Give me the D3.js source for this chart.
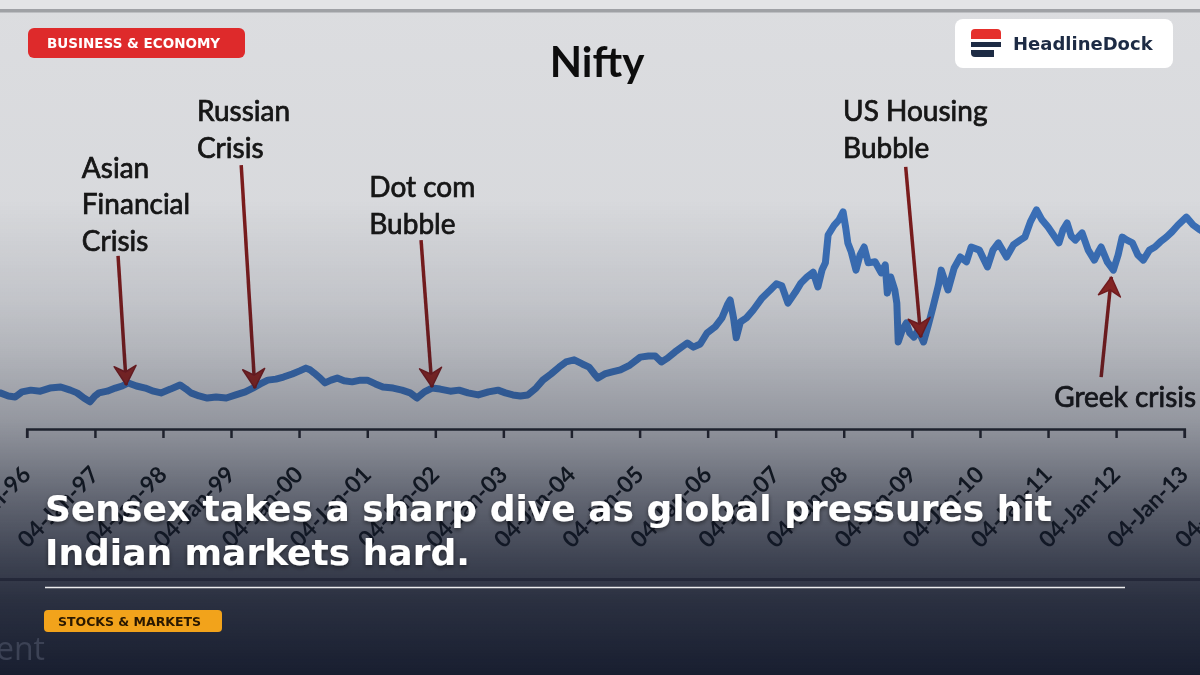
<!DOCTYPE html>
<html>
<head>
<meta charset="utf-8">
<script src="https://cdn.jsdelivr.net/npm/d3@7"></script>
<style>
  html, body { margin: 0; padding: 0; background: #141a2c; }
  svg { display: block; }
</style>
</head>
<body>
<svg id="chart" width="1200" height="675"></svg>
<script>
'use strict';

// Nifty closing level, decimal years
const years = [
  1995.46, 1995.61, 1995.73, 1995.83, 1995.93, 1996.06, 1996.20, 1996.34, 1996.50, 1996.64,
  1996.74, 1996.84, 1996.93, 1997.00, 1997.06, 1997.18, 1997.30, 1997.40, 1997.49, 1997.61,
  1997.74, 1997.86, 1997.97, 1998.11, 1998.25, 1998.34, 1998.41, 1998.53, 1998.65, 1998.78,
  1998.93, 1999.07, 1999.21, 1999.32, 1999.43, 1999.54, 1999.66, 1999.77, 1999.90, 2000.01,
  2000.10, 2000.16, 2000.22, 2000.31, 2000.38, 2000.47, 2000.56, 2000.66, 2000.78, 2000.90,
  2001.00, 2001.12, 2001.23, 2001.38, 2001.51, 2001.63, 2001.73, 2001.84, 2001.95, 2002.07,
  2002.22, 2002.35, 2002.48, 2002.63, 2002.78, 2002.92, 2003.03, 2003.14, 2003.25, 2003.36,
  2003.48, 2003.58, 2003.70, 2003.82, 2003.92, 2004.04, 2004.16, 2004.26, 2004.35, 2004.39,
  2004.49, 2004.60, 2004.72, 2004.86, 2005.01, 2005.13, 2005.23, 2005.32, 2005.41, 2005.52,
  2005.70, 2005.79, 2005.89, 2005.99, 2006.11, 2006.21, 2006.29, 2006.33, 2006.38, 2006.42,
  2006.48, 2006.57, 2006.67, 2006.80, 2006.92, 2007.01, 2007.09, 2007.18, 2007.29, 2007.37,
  2007.46, 2007.55, 2007.62, 2007.68, 2007.73, 2007.77, 2007.86, 2007.93, 2007.99, 2008.03,
  2008.06, 2008.11, 2008.18, 2008.24, 2008.30, 2008.36, 2008.46, 2008.55, 2008.61, 2008.64,
  2008.69, 2008.75, 2008.78, 2008.80, 2008.86, 2008.92, 2008.97, 2009.03, 2009.09, 2009.17,
  2009.24, 2009.31, 2009.39, 2009.43, 2009.53, 2009.62, 2009.71, 2009.80, 2009.87, 2009.99,
  2010.11, 2010.19, 2010.27, 2010.39, 2010.49, 2010.59, 2010.66, 2010.74, 2010.83, 2010.91,
  2011.00, 2011.09, 2011.16, 2011.22, 2011.28, 2011.34, 2011.40, 2011.50, 2011.59, 2011.68,
  2011.74, 2011.78, 2011.87, 2011.96, 2012.03, 2012.09, 2012.16, 2012.24, 2012.32, 2012.40,
  2012.49, 2012.57, 2012.65, 2012.74, 2012.82, 2012.91, 2013.03, 2013.13, 2013.23, 2013.35
];

const nifty = [
  1100, 1050, 960, 930, 1080, 1130, 1100, 1190, 1220, 1130,
  1050, 900, 790, 960, 1050, 1100, 1190, 1250, 1340, 1250,
  1190, 1100, 1050, 1160, 1280, 1160, 1050, 960, 900, 930,
  900, 990, 1080, 1190, 1310, 1420, 1450, 1510, 1600, 1690,
  1770, 1720, 1630, 1480, 1340, 1420, 1480, 1400, 1370, 1420,
  1420, 1310, 1220, 1190, 1130, 1050, 900, 1080, 1190, 1160,
  1100, 1130, 1050, 990, 1080, 1130, 1050, 990, 960, 990,
  1190, 1420, 1600, 1800, 1950, 2010, 1890, 1800, 1570, 1480,
  1600, 1660, 1720, 1860, 2090, 2120, 2120, 1950, 2060, 2240,
  2500, 2380, 2470, 2790, 2970, 3230, 3610, 3750, 3230, 2650,
  3110, 3230, 3460, 3810, 4040, 4220, 4160, 3660, 3980, 4240,
  4420, 4560, 4130, 4620, 4830, 5640, 5930, 6080, 6310, 5840,
  5410, 5150, 4620, 5060, 5290, 4830, 4860, 4540, 4770, 3950,
  4420, 4040, 3660, 2530, 2880, 3080, 2790, 2670, 2880, 2530,
  3020, 3550, 4190, 4620, 4040, 4680, 5000, 4860, 5290, 5200,
  4710, 5200, 5410, 5000, 5350, 5490, 5580, 6020, 6370, 6080,
  5870, 5610, 5410, 5790, 5990, 5610, 5490, 5700, 5200, 4910,
  5150, 5290, 4860, 4620, 5060, 5580, 5490, 5410, 5060, 4910,
  5200, 5290, 5440, 5580, 5730, 5930, 6160, 5930, 5790, 5640
];

const tickYears = d3.range(1995, 2015);

const events = [
  { lines: ['Asian', 'Financial', 'Crisis'], label: [1996.81, 7300], tail: [1997.34, 5030], tip: [1997.46, 1280] },
  { lines: ['Russian', 'Crisis'], label: [1998.50, 8950], tail: [1999.15, 7670], tip: [1999.35, 1190] },
  { lines: ['Dot com', 'Bubble'], label: [2001.03, 6740], tail: [2001.79, 5490], tip: [2001.95, 1220] },
  { lines: ['US Housing', 'Bubble'], label: [2007.99, 8950], tail: [2008.91, 7620], tip: [2009.13, 2670] },
  { lines: ['Greek crisis'], label: [2011.09, 640], tail: [2011.78, 1510], tip: [2011.93, 4420] }
];

const width = 1200;
const height = 675;
const axisY = 429;

function toDate(t) {
  const yr = Math.floor(t);
  const start = new Date(yr, 0, 4);
  return new Date(start.getTime() + (t - yr) * 365.25 * 864e5);
}

const series = years.map((t, i) => ({ date: toDate(t), value: nifty[i] }));

const x = d3.scaleTime()
  .domain([new Date(1996, 0, 4), new Date(2013, 0, 4)])
  .range([26.7, 1184.3]);

const y = d3.scaleLinear()
  .domain([0, 7000])
  .range([axisY, axisY - 7000 * 0.0344]);

const svg = d3.select('#chart');
const defs = svg.append('defs');

const shade = defs.append('linearGradient')
  .attr('id', 'shade')
  .attr('gradientUnits', 'userSpaceOnUse')
  .attr('x1', 0).attr('y1', 200).attr('x2', 0).attr('y2', height);
[[0, 0], [0.21, 0.1], [0.316, 0.18], [0.463, 0.33], [0.547, 0.46], [0.632, 0.6], [0.758, 0.78], [0.842, 0.88], [1, 0.98]]
  .forEach(s => shade.append('stop')
    .attr('offset', s[0])
    .attr('stop-color', '#141a2c')
    .attr('stop-opacity', s[1]));

const paper = defs.append('linearGradient')
  .attr('id', 'paper')
  .attr('x1', 0).attr('y1', 0).attr('x2', 0).attr('y2', 1);
paper.append('stop').attr('offset', 0).attr('stop-color', '#dcdde0');
paper.append('stop').attr('offset', 1).attr('stop-color', '#cfd1d5');

defs.append('filter').attr('id', 'soft')
  .append('feGaussianBlur').attr('stdDeviation', 0.6);

const shadow = defs.append('filter').attr('id', 'shadow')
  .attr('x', -0.05).attr('y', -0.2).attr('width', 1.1).attr('height', 1.5);
shadow.append('feDropShadow')
  .attr('dx', 0).attr('dy', 2).attr('stdDeviation', 2)
  .attr('flood-color', '#000').attr('flood-opacity', 0.5);

// background of the chart picture
svg.append('rect')
  .attr('width', width).attr('height', height)
  .attr('fill', 'url(#paper)');
svg.append('rect')
  .attr('width', width).attr('height', 9)
  .attr('fill', '#e3e4e6');
svg.append('rect')
  .attr('y', 9).attr('width', width).attr('height', 3.5)
  .attr('fill', '#9fa1a5');

const chart = svg.append('g').attr('filter', 'url(#soft)');

chart.append('text')
  .attr('x', 597).attr('y', 77)
  .attr('text-anchor', 'middle')
  .attr('font-family', 'Lato, "Open Sans", sans-serif')
  .attr('font-weight', 'bold')
  .attr('font-size', 42)
  .attr('fill', '#111')
  .text('Nifty');

const xAxis = d3.axisBottom(x)
  .tickValues(tickYears.map(yr => new Date(yr, 0, 4)))
  .tickSize(9)
  .tickFormat(d3.timeFormat('%d-%b-%y'));

const axisG = chart.append('g')
  .attr('transform', `translate(0,${axisY})`)
  .call(xAxis);

axisG.select('.domain')
  .attr('stroke', '#25282f')
  .attr('stroke-width', 2.5);
axisG.selectAll('.tick line')
  .attr('stroke', '#25282f')
  .attr('stroke-width', 2.5);
axisG.selectAll('.tick text')
  .attr('x', 0).attr('y', 0).attr('dy', 0)
  .attr('transform', 'translate(5,47) rotate(-45)')
  .attr('text-anchor', 'end')
  .attr('font-family', 'Lato, "Open Sans", sans-serif')
  .attr('font-weight', 'bold')
  .attr('font-size', 23)
  .attr('fill', '#101216');

const line = d3.line()
  .x(d => x(d.date))
  .y(d => y(d.value));

chart.append('path')
  .datum(series)
  .attr('d', line)
  .attr('fill', 'none')
  .attr('stroke', '#3a70b8')
  .attr('stroke-width', 7)
  .attr('stroke-linejoin', 'round');

function pt(p) {
  return [x(toDate(p[0])), y(p[1])];
}

events.forEach(ev => {
  const a = pt(ev.tail);
  const b = pt(ev.tip);
  const ang = Math.atan2(b[1] - a[1], b[0] - a[0]) * 180 / Math.PI;

  chart.append('line')
    .attr('x1', a[0]).attr('y1', a[1])
    .attr('x2', b[0]).attr('y2', b[1])
    .attr('stroke', '#7a1c1f')
    .attr('stroke-width', 3.5);

  chart.append('path')
    .attr('d', 'M0,0 L-19,-11 L-13,0 L-19,11 Z')
    .attr('transform', `translate(${b[0]},${b[1]}) rotate(${ang})`)
    .attr('fill', '#8e2624')
    .attr('stroke', '#7a1c1f')
    .attr('stroke-width', 1.5)
    .attr('stroke-linejoin', 'round');

  const l = pt(ev.label);
  chart.append('text')
    .attr('font-family', 'Lato, "Open Sans", sans-serif')
    .attr('font-size', 28)
    .attr('fill', '#141414')
    .attr('stroke', '#141414')
    .attr('stroke-width', 0.7)
    .selectAll('tspan')
    .data(ev.lines)
    .join('tspan')
    .attr('x', l[0])
    .attr('y', (d, i) => l[1] + i * 36.5)
    .text(d => d);
});

// dark news overlay
svg.append('rect')
  .attr('y', 200).attr('width', width).attr('height', height - 200)
  .attr('fill', 'url(#shade)');
svg.append('rect')
  .attr('y', 578).attr('width', width).attr('height', 3)
  .attr('fill', '#151a2b').attr('opacity', 0.55);

svg.append('text')
  .attr('x', -4).attr('y', 660)
  .attr('font-family', '"Open Sans", sans-serif')
  .attr('font-size', 32)
  .attr('fill', '#3c4255')
  .text('ent');

// category badges and logo
const badges = svg.append('g');
badges.append('rect')
  .attr('x', 28).attr('y', 28).attr('width', 217).attr('height', 30).attr('rx', 6)
  .attr('fill', '#de2a2b');
badges.append('text')
  .attr('x', 47).attr('y', 48)
  .attr('font-family', '"DejaVu Sans", sans-serif')
  .attr('font-weight', 'bold')
  .attr('font-size', 13.5)
  .attr('fill', '#fff')
  .text('BUSINESS & ECONOMY');

badges.append('rect')
  .attr('x', 955).attr('y', 19).attr('width', 218).attr('height', 49).attr('rx', 8)
  .attr('fill', '#fff');
badges.append('path')
  .attr('d', 'M971,39 V33 Q971,29 975,29 H997 Q1001,29 1001,33 V39 Z')
  .attr('fill', '#e5302c');
badges.append('rect')
  .attr('x', 971).attr('y', 42).attr('width', 30).attr('height', 5)
  .attr('fill', '#1d2b44');
badges.append('path')
  .attr('d', 'M971,50 H994 V57 H975 Q971,57 971,53 Z')
  .attr('fill', '#1d2b44');
badges.append('text')
  .attr('x', 1013).attr('y', 50)
  .attr('font-family', '"DejaVu Sans", sans-serif')
  .attr('font-weight', 'bold')
  .attr('font-size', 18)
  .attr('fill', '#1d2b44')
  .text('HeadlineDock');

// headline block
const head = svg.append('g');
head.append('text')
  .attr('font-family', '"DejaVu Sans", sans-serif')
  .attr('font-weight', 'bold')
  .attr('font-size', 36)
  .attr('fill', '#fff')
  .attr('filter', 'url(#shadow)')
  .selectAll('tspan')
  .data(['Sensex takes a sharp dive as global pressures hit', 'Indian markets hard.'])
  .join('tspan')
  .attr('x', 45)
  .attr('y', (d, i) => 521 + i * 44)
  .text(d => d);

head.append('line')
  .attr('x1', 45).attr('x2', 1125)
  .attr('y1', 587.5).attr('y2', 587.5)
  .attr('stroke', '#fff')
  .attr('stroke-opacity', 0.9)
  .attr('stroke-width', 1.5);

head.append('rect')
  .attr('x', 44).attr('y', 610).attr('width', 178).attr('height', 22).attr('rx', 4)
  .attr('fill', '#f2a31b');
head.append('text')
  .attr('x', 58).attr('y', 625.5)
  .attr('font-family', '"DejaVu Sans", sans-serif')
  .attr('font-weight', 'bold')
  .attr('font-size', 12.5)
  .attr('fill', '#2a1800')
  .text('STOCKS & MARKETS');
</script>
</body>
</html>
